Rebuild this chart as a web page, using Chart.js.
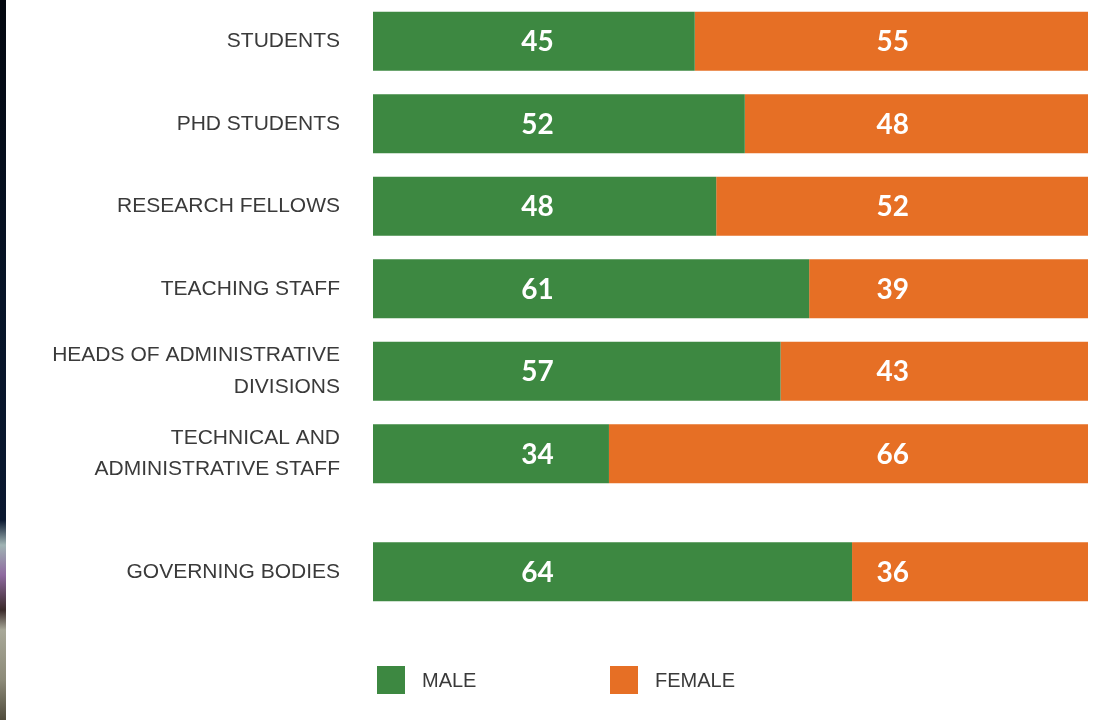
<!DOCTYPE html>
<html>
<head>
<meta charset="utf-8">
<script src="https://cdn.jsdelivr.net/npm/chart.js@4.4.1/dist/chart.umd.min.js"></script>
<style>
  html, body { margin: 0; padding: 0; background: #ffffff; }
  #wrap { position: relative; width: 1113px; height: 720px; }
  #strip { position: absolute; left: 0; top: 0; width: 6px; height: 720px;
    background: linear-gradient(to bottom, #03070f 0px, #071428 300px, #0a1830 520px, #9fb3b3 545px, #8f6aa0 575px, #3a2a2a 610px, #a8a898 630px, #8c8a78 680px, #504c3c 720px); z-index: 2; }
</style>
</head>
<body>
<div id="wrap">
  <div id="strip"></div>
  <canvas id="c" width="1113" height="720"></canvas>
</div>
<script>
const categories = [
  'STUDENTS',
  'PHD STUDENTS',
  'RESEARCH FELLOWS',
  'TEACHING STAFF',
  ['HEADS OF ADMINISTRATIVE', 'DIVISIONS'],
  ['TECHNICAL AND', 'ADMINISTRATIVE STAFF'],
  'GOVERNING BODIES'
];
const rowPos = [0, 1, 2, 3, 4, 5, 6.43];
// bar lengths as drawn in the picture (%)
const male = [45, 52, 48, 61, 57, 33, 67];
const female = [55, 48, 52, 39, 43, 67, 33];
// values printed on the bars
const maleLabels = [45, 52, 48, 61, 57, 34, 64];
const femaleLabels = [55, 48, 52, 39, 43, 66, 36];
const seriesNames = ['MALE', 'FEMALE'];
const printed = [maleLabels, femaleLabels];
const labelAnchor = [23, 72.7];

const GREEN = '#3d8841';
const ORANGE = '#e66f25';

const toPoints = (vals) => vals.map((v, i) => ({ x: v, y: rowPos[i] }));

const valueLabels = {
  id: 'valueLabels',
  afterDatasetsDraw(chart) {
    const ctx = chart.ctx;
    const xs = chart.scales.x;
    ctx.save();
    ctx.fillStyle = '#ffffff';
    ctx.font = '700 28px Lato, "Open Sans", sans-serif';
    ctx.textAlign = 'center';
    ctx.textBaseline = 'middle';
    chart.data.datasets.forEach((ds, i) => {
      const meta = chart.getDatasetMeta(i);
      const x = xs.getPixelForValue(labelAnchor[i]);
      meta.data.forEach((bar, j) => {
        ctx.fillText(String(printed[i][j]), x, bar.y + 1);
      });
    });
    ctx.restore();
  }
};

const customLegend = {
  id: 'customLegend',
  afterDraw(chart) {
    const ctx = chart.ctx;
    const boxX = [377, 610];
    const y = 666, size = 28;
    ctx.save();
    ctx.font = '20px "Liberation Sans", Arial, sans-serif';
    ctx.textBaseline = 'middle';
    ctx.textAlign = 'left';
    chart.data.datasets.forEach((ds, i) => {
      ctx.fillStyle = ds.backgroundColor;
      ctx.fillRect(boxX[i], y, size, size);
      ctx.fillStyle = '#3a3a3a';
      ctx.fillText(ds.label, boxX[i] + size + 17, y + size / 2 + 1);
    });
    ctx.restore();
  }
};

new Chart(document.getElementById('c'), {
  type: 'bar',
  data: {
    datasets: [
      { label: seriesNames[0], data: toPoints(male), backgroundColor: GREEN },
      { label: seriesNames[1], data: toPoints(female), backgroundColor: ORANGE }
    ]
  },
  options: {
    indexAxis: 'y',
    responsive: false,
    animation: false,
    categoryPercentage: 1,
    barPercentage: 0.716,
    layout: { autoPadding: false, padding: { top: 0, right: 25, bottom: 107, left: 0 } },
    plugins: {
      legend: { display: false },
      tooltip: { enabled: false }
    },
    scales: {
      x: {
        type: 'linear', stacked: true, min: 0, max: 100, display: false
      },
      y: {
        type: 'linear', stacked: true, reverse: true, min: -0.5, max: 6.93, offset: false,
        grid: { display: false, drawTicks: false, tickLength: 0 },
        border: { display: false },
        afterBuildTicks(axis) { axis.ticks = rowPos.map(v => ({ value: v })); },
        afterFit(axis) {
          axis.width = 373;
          axis.paddingTop = 0; axis.paddingBottom = 0;
          axis.paddingLeft = 0; axis.paddingRight = 0;
        },
        ticks: {
          autoSkip: false,
          padding: 33,
          color: '#3a3a3a',
          font: { family: '"Liberation Sans", Arial, sans-serif', size: 21, lineHeight: 1.5 },
          callback(value, index) { return categories[index]; }
        }
      }
    }
  },
  plugins: [valueLabels, customLegend]
});
</script>
</body>
</html>
